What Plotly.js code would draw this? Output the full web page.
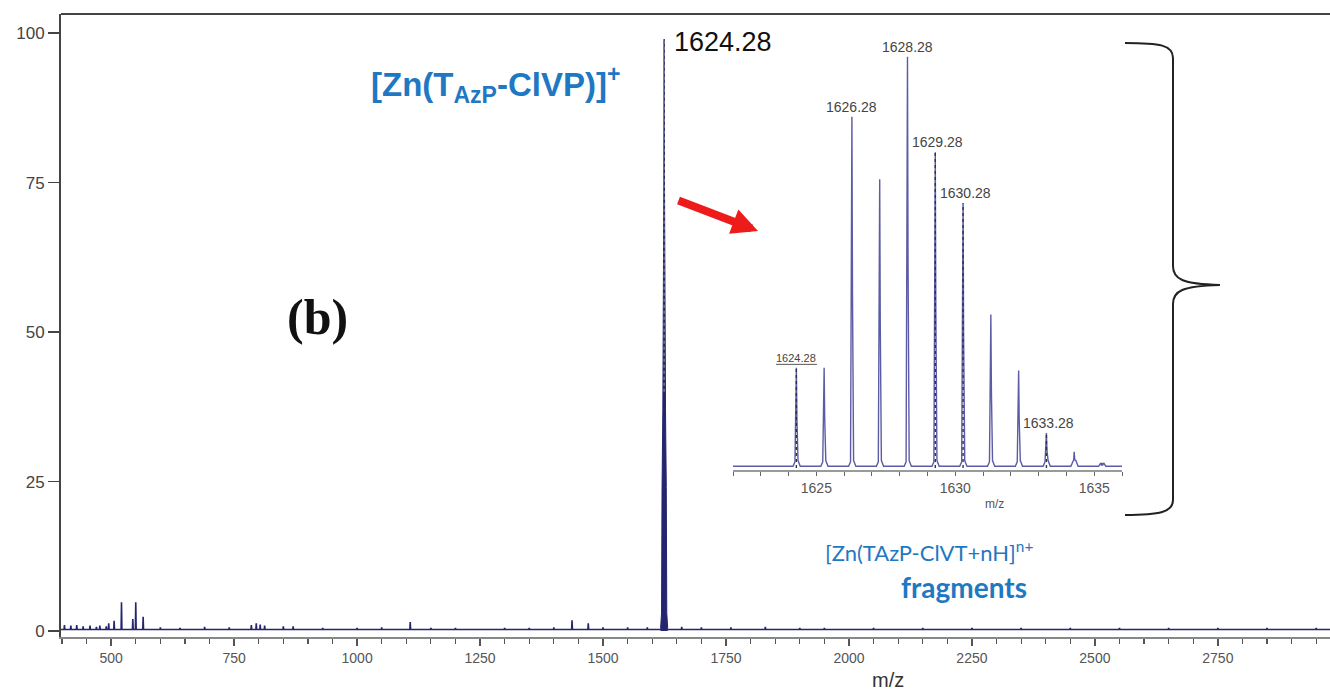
<!DOCTYPE html>
<html>
<head>
<meta charset="utf-8">
<script src="https://cdn.plot.ly/plotly-3.0.1.min.js"></script>
<style>
  html, body { margin: 0; padding: 0; background: #fff; }
  #chart { width: 1330px; height: 692px; }
</style>
</head>
<body>
<div id="chart"></div>
<script>
// ESI mass spectrum of the Zn complex, full scan plus isotope cluster detail

// Minor peaks of the full scan (m/z, relative intensity %)
const noiseMz  = [405, 418, 430, 443, 457, 470, 477, 490, 495, 506, 521, 544, 550, 565, 600, 640, 690, 740, 785, 795, 803, 812, 850, 870, 930, 1000, 1050, 1108, 1150, 1200, 1300, 1350, 1400, 1437, 1470, 1500, 1550, 1590, 1660, 1700, 1760, 1830, 1900, 1950, 2050, 2150, 2250, 2350, 2450, 2550, 2650, 2750, 2850, 2950];
const noiseInt = [1.0, 0.9, 1.0, 0.8, 0.9, 0.7, 0.9, 0.8, 1.3, 1.7, 4.8, 2.0, 4.8, 2.4, 0.6, 0.5, 0.7, 0.6, 1.0, 1.3, 1.1, 0.9, 0.8, 0.8, 0.5, 0.5, 0.6, 1.5, 0.5, 0.5, 0.5, 0.5, 0.6, 1.8, 1.3, 0.6, 0.6, 0.6, 0.7, 0.6, 0.6, 0.7, 0.5, 0.5, 0.5, 0.5, 0.5, 0.5, 0.5, 0.5, 0.5, 0.5, 0.5, 0.5];

// Base peak profile around m/z 1624.28
const mainPeakMz  = [1617, 1619, 1620, 1621.6, 1623.6, 1624.28, 1625, 1627, 1628.6, 1629.6, 1631.5];
const mainPeakInt = [0.4, 3, 24, 37, 75, 99, 75, 37, 24, 3, 0.4];
const basePeakMz = 1624.28;
const basePeakInt = 99;

// Isotope cluster (detail view)
const isoMz  = [1624.28, 1625.28, 1626.28, 1627.28, 1628.28, 1629.28, 1630.28, 1631.28, 1632.28, 1633.28, 1634.28, 1635.28];
const isoInt = [24.4, 24.4, 85.4, 70.2, 100, 76.8, 64.4, 37.3, 23.7, 8.5, 3.9, 1.2];
const isoLabeled = [1624.28, 1626.28, 1628.28, 1629.28, 1630.28, 1633.28];
const isoCentroid = [1624.28, 1629.28, 1630.28, 1633.28];

// Axis ticks
const mainTicks = [500, 750, 1000, 1250, 1500, 1750, 2000, 2250, 2500, 2750];
const intensityTicks = [0, 25, 50, 75, 100];
const insetTicks = [1625, 1630, 1635];

// ---- geometry helpers (plot area in page pixels) ----
const PL = 61, PT = 14, PR = 1330, PB = 637;
const px = x => (x - PL) / (PR - PL);
const py = y => (PB - y) / (PB - PT);

// ---- build the full-scan stick line ----
const xRange = [398, 2978];
const base = 0.25;
const specX = [xRange[0]], specY = [base];
noiseMz.forEach((m, i) => {
  specX.push(m - 0.8, m, m + 0.8);
  specY.push(base, noiseInt[i], base);
});
specX.push(xRange[1]); specY.push(base);

// ---- build isotope cluster profile ----
const isoX = [1622], isoY = [0.4];
isoMz.forEach((m, i) => {
  const h = isoInt[i];
  isoX.push(m - 0.12, m - 0.05, m - 0.02, m, m + 0.02, m + 0.06, m + 0.14);
  isoY.push(0.4, Math.min(h, 1.5), 0.5 * h, h, 0.5 * h, Math.min(h, 1.8), 0.4);
});
isoX.push(1636); isoY.push(0.4);

const cenX = [], cenY = [];
isoCentroid.forEach(m => {
  const h = isoInt[isoMz.indexOf(m)];
  cenX.push(m, m, null); cenY.push(0, h, null);
});

const navy = '#24246f';
const insetColor = '#5c5ca6';
const blue = '#1f78c2';

const traces = [
  { x: specX, y: specY, type: 'scatter', mode: 'lines',
    line: { color: navy, width: 1.6 }, xaxis: 'x', yaxis: 'y', hoverinfo: 'skip' },
  { x: mainPeakMz, y: mainPeakInt, type: 'scatter', mode: 'lines', fill: 'tozeroy',
    fillcolor: navy, line: { color: navy, width: 1 }, xaxis: 'x', yaxis: 'y', hoverinfo: 'skip' },
  { x: [basePeakMz, basePeakMz], y: [40, basePeakInt], type: 'scatter', mode: 'lines',
    line: { color: '#777', width: 1.5, dash: 'dot' }, xaxis: 'x', yaxis: 'y', hoverinfo: 'skip' },
  { x: isoX, y: isoY, type: 'scatter', mode: 'lines',
    line: { color: insetColor, width: 1.4 }, xaxis: 'x2', yaxis: 'y2', hoverinfo: 'skip' },
  { x: cenX, y: cenY, type: 'scatter', mode: 'lines',
    line: { color: '#333', width: 1.4, dash: 'dot' }, xaxis: 'x2', yaxis: 'y2', hoverinfo: 'skip' }
];

const sans = 'Liberation Sans, Arial, sans-serif';
const paperText = (x, y, text, font) => ({
  x: px(x), y: py(y), xref: 'paper', yref: 'paper', xanchor: 'center', yanchor: 'middle',
  showarrow: false, text: text, font: font
});

const annotations = [
  { x: basePeakMz, y: basePeakInt, xref: 'x', yref: 'y', xanchor: 'left', yanchor: 'middle',
    xshift: 8, yshift: -3, showarrow: false, text: basePeakMz.toFixed(2),
    font: { family: sans, size: 27, color: '#111' } },
  paperText(495, 84, '<b>[Zn(T<sub><span style="font-size:23px">AzP</span></sub>-ClVP)]<sup>+</sup></b>',
    { family: sans, size: 33, color: blue }),
  paperText(317, 317, '<b>(b)</b>',
    { family: 'Liberation Serif, Times New Roman, serif', size: 50, color: '#111' }),
  paperText(929, 551, '[Zn(TAzP-ClVT+nH]<sup>n+</sup>',
    { family: 'Lato, Open Sans, sans-serif', size: 22, color: blue }),
  paperText(964, 587, '<b>fragments</b>',
    { family: 'Lato, Open Sans, sans-serif', size: 28, color: blue }),
  paperText(888, 680, 'm/z', { family: sans, size: 20, color: '#333' }),
  paperText(995, 504, 'm/z', { family: sans, size: 12, color: '#555' }),
  // red pointer from the base peak to the cluster detail
  { x: px(758), y: py(231), xref: 'paper', yref: 'paper', text: '', showarrow: true,
    ax: -81, ay: -31, arrowhead: 2, arrowsize: 0.65, arrowwidth: 8, arrowcolor: '#ee1b1b', standoff: 0 }
];

isoLabeled.forEach(m => {
  const h = isoInt[isoMz.indexOf(m)];
  const small = m === 1624.28;
  annotations.push({
    x: m, y: h, xref: 'x2', yref: 'y2', xanchor: 'center', yanchor: 'bottom',
    yshift: small ? 2 : 0, xshift: m === 1629.28 || m === 1630.28 || m === 1633.28 ? 2 : 0,
    showarrow: false, text: m.toFixed(2),
    font: { family: sans, size: small ? 11 : 14, color: '#444' }
  });
});

// curly brace grouping the cluster
const P = (x, y) => px(x).toFixed(5) + ',' + py(y).toFixed(5);
const bracePath =
  'M' + P(1125, 43) +
  ' C' + P(1160, 43) + ' ' + P(1173, 45) + ' ' + P(1173, 58) +
  ' L' + P(1173, 266) +
  ' C' + P(1173, 279) + ' ' + P(1182, 284) + ' ' + P(1220, 285) +
  ' C' + P(1182, 286) + ' ' + P(1173, 291) + ' ' + P(1173, 304) +
  ' L' + P(1173, 500) +
  ' C' + P(1173, 512) + ' ' + P(1160, 515) + ' ' + P(1125, 515);

const shapes = [
  { type: 'line', xref: 'paper', yref: 'paper', x0: 0, x1: 1, y0: 1, y1: 1,
    line: { color: '#444', width: 2 } },
  { type: 'path', xref: 'paper', yref: 'paper', path: bracePath,
    line: { color: '#222', width: 2 } },
  { type: 'line', xref: 'x2', yref: 'y2', x0: 1623.55, x1: 1625.02, y0: 25.2, y1: 25.2,
    line: { color: '#555', width: 1 } }
];

const layout = {
  width: 1330, height: 692,
  margin: { l: PL, r: 1330 - PR, t: PT, b: 692 - PB },
  paper_bgcolor: '#fff', plot_bgcolor: '#fff',
  showlegend: false,
  xaxis: {
    range: xRange, tickvals: mainTicks, ticks: 'outside', ticklen: 7, tickwidth: 1.5, tickcolor: '#555',
    minor: { dtick: 50, tick0: 0, ticks: 'outside', ticklen: 5, tickwidth: 1.2, tickcolor: '#555' },
    showline: true, linecolor: '#888', linewidth: 2, showgrid: false, zeroline: false,
    tickfont: { family: sans, size: 14, color: '#555' }
  },
  yaxis: {
    range: [-1, 103.2], tickvals: intensityTicks, ticks: 'outside', ticklen: 11, tickwidth: 1.5, tickcolor: '#444',
    showline: true, linecolor: '#444', linewidth: 2, showgrid: false, zeroline: false,
    tickfont: { family: sans, size: 17, color: '#444' }
  },
  xaxis2: {
    domain: [px(733), px(1122)], anchor: 'y2', range: [1622, 1636],
    tickvals: insetTicks, ticks: 'outside', ticklen: 4, tickwidth: 1, tickcolor: '#666',
    minor: { dtick: 1, tick0: 1622, ticks: 'outside', ticklen: 4, tickwidth: 1, tickcolor: '#666' },
    showline: true, linecolor: '#9a9a9a', linewidth: 2, showgrid: false, zeroline: false,
    tickfont: { family: sans, size: 14, color: '#555' }
  },
  yaxis2: {
    domain: [py(470), py(40)], anchor: 'x2', range: [-0.5, 104.1], visible: false
  },
  annotations: annotations,
  shapes: shapes
};

Plotly.newPlot('chart', traces, layout, { displayModeBar: false, staticPlot: true });
</script>
</body>
</html>
